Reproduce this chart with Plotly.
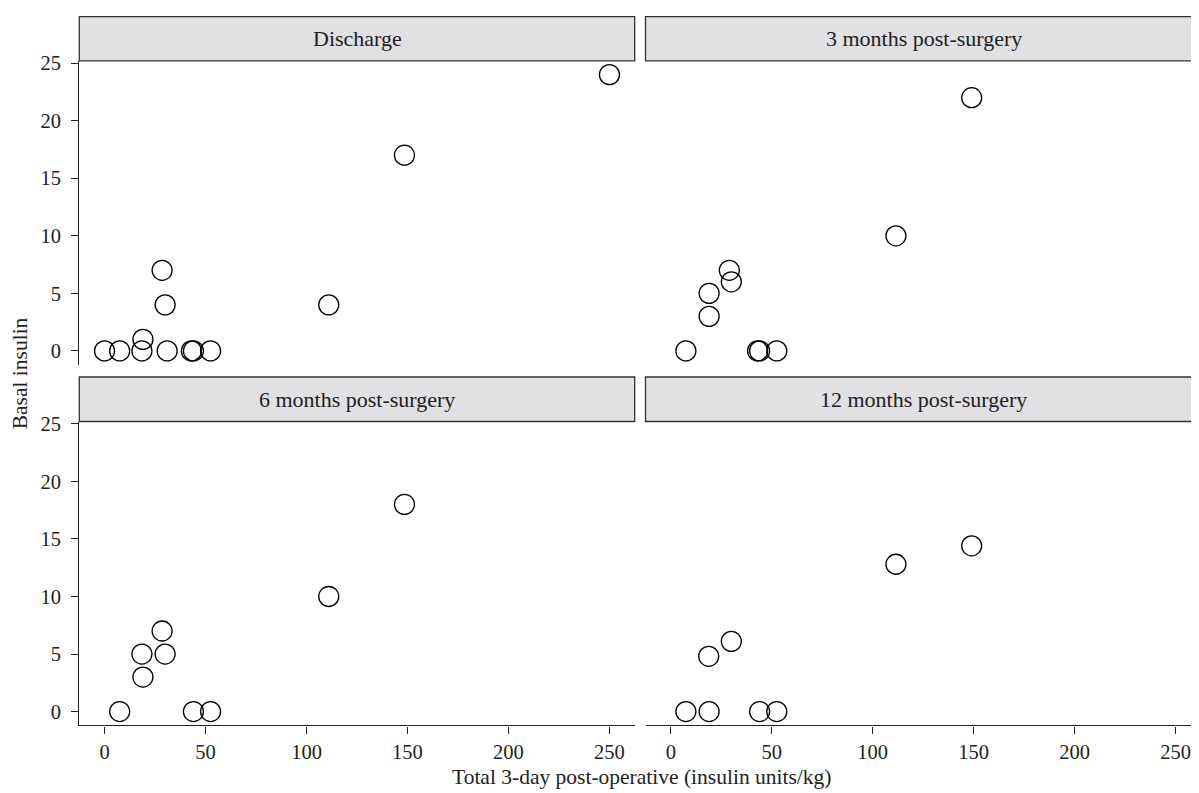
import plotly.graph_objects as go

# ---- data ----
panels = ["Discharge", "3 months post-surgery", "6 months post-surgery", "12 months post-surgery"]

discharge_x = [0, 7.5, 18.5, 19, 28.5, 30, 31, 43, 44, 52.5, 111, 148.5, 250]
discharge_y = [0, 0, 0, 1, 7, 4, 0, 0, 0, 0, 4, 17, 24]

m3_x = [7.5, 19, 19, 29, 30, 43, 44, 52.5, 111.5, 149]
m3_y = [0, 5, 3, 7, 6, 0, 0, 0, 10, 22]

m6_x = [7.5, 18.5, 19, 28.5, 30, 44, 52.5, 111, 148.5]
m6_y = [0, 5, 3, 7, 5, 0, 0, 10, 18]

m12_x = [7.5, 19, 18.8, 30, 44, 52.5, 111.5, 149]
m12_y = [0, 0, 4.8, 6.1, 0, 0, 12.8, 14.4]

x_ticks = [0, 50, 100, 150, 200, 250]
y_ticks = [0, 5, 10, 15, 20, 25]

x_title = "Total 3-day post-operative (insulin units/kg)"
y_title = "Basal insulin"

# ---- layout geometry (page pixels; the page body adds an 8px offset) ----
OFF = 8
VW, VH = 1199, 793
W, H = VW - OFF, VH - OFF
def px(x): return (x - OFF) / W
def py(y): return 1 - (y - OFF) / H

xdom_left = [px(79.3), px(634.7)]
xdom_right = [px(645.5), 1.0]
ydom_top = [py(360.3), py(53.3)]
ydom_bot = [py(724.7), py(417.7)]
strip_top = [py(53.3), py(8.7)]
strip_bot = [py(417.7), py(372.7)]

xr_left = [-12.5, 262.5]
xr_right = [-12.5, -12.5 + (VW - 645.5) / (555.4 / 275.0)]
yr = [-1.2, 25.2]

FONT = "Liberation Serif"
TXT = "#222222"
LINE = "#222222"

fig = go.Figure()
series = [(discharge_x, discharge_y, "x", "y"),
          (m3_x, m3_y, "x2", "y2"),
          (m6_x, m6_y, "x3", "y3"),
          (m12_x, m12_y, "x4", "y4")]
for xs, ys, xa, ya in series:
    fig.add_trace(go.Scatter(
        x=xs, y=ys, xaxis=xa, yaxis=ya, mode="markers",
        marker=dict(symbol="circle-open", size=20, color="black", line=dict(width=1.3, color="black")),
        cliponaxis=False, showlegend=False, hoverinfo="x+y"))

common = dict(showgrid=False, zeroline=False, tickfont=dict(family=FONT, size=20.5, color=TXT),
              linecolor=LINE, linewidth=1.3, tickcolor=LINE, tickwidth=1.3, ticklen=7)

def xax(domain, rng, anchor, show):
    d = dict(common, domain=domain, range=rng, anchor=anchor, tickvals=x_ticks, ticktext=[str(v) for v in x_ticks])
    if show:
        d.update(showline=True, ticks="outside", showticklabels=True, ticklabelstandoff=1)
    else:
        d.update(showline=False, ticks="", showticklabels=False)
    return d

def yax(domain, anchor, show):
    d = dict(common, domain=domain, range=yr, anchor=anchor, tickvals=y_ticks, ticktext=[str(v) for v in y_ticks])
    if show:
        d.update(showline=True, ticks="outside", showticklabels=True, ticklabelstandoff=6)
    else:
        d.update(showline=False, ticks="", showticklabels=False)
    return d

fig.update_layout(
    width=W, height=H,
    margin=dict(l=0, r=0, t=0, b=0),
    paper_bgcolor="white", plot_bgcolor="white",
    font=dict(family=FONT, color=TXT),
    xaxis=xax(xdom_left, xr_left, "y", False),
    yaxis=yax(ydom_top, "x", True),
    xaxis2=xax(xdom_right, xr_right, "y2", False),
    yaxis2=yax(ydom_top, "x2", False),
    xaxis3=xax(xdom_left, xr_left, "y3", True),
    yaxis3=yax(ydom_bot, "x3", True),
    xaxis4=xax(xdom_right, xr_right, "y4", True),
    yaxis4=yax(ydom_bot, "x4", False),
)

# strips
strip_specs = [(xdom_left[0], xdom_left[1], strip_top, panels[0]),
               (xdom_right[0], px(1202), strip_top, panels[1]),
               (xdom_left[0], xdom_left[1], strip_bot, panels[2]),
               (xdom_right[0], px(1202), strip_bot, panels[3])]
for x0, x1, (y0, y1), label in strip_specs:
    fig.add_shape(type="rect", xref="paper", yref="paper", x0=x0, x1=x1, y0=y0, y1=y1,
                  fillcolor="#e1e0e2", line=dict(color="#333333", width=1.3), layer="above")
    fig.add_annotation(text=label, xref="paper", yref="paper", x=(x0 + x1) / 2, y=(y0 + y1) / 2,
                       showarrow=False, xanchor="center", yanchor="middle",
                       font=dict(family=FONT, size=22, color=TXT))

# axis titles
fig.add_annotation(text=x_title, xref="paper", yref="paper", x=px(641), y=py(777),
                   showarrow=False, xanchor="center", yanchor="middle",
                   font=dict(family=FONT, size=21.5, color=TXT))
fig.add_annotation(text=y_title, xref="paper", yref="paper", x=px(20), y=py(369),
                   showarrow=False, xanchor="center", yanchor="middle", textangle=-90,
                   font=dict(family=FONT, size=21.5, color=TXT))

fig.write_html("out.html")
